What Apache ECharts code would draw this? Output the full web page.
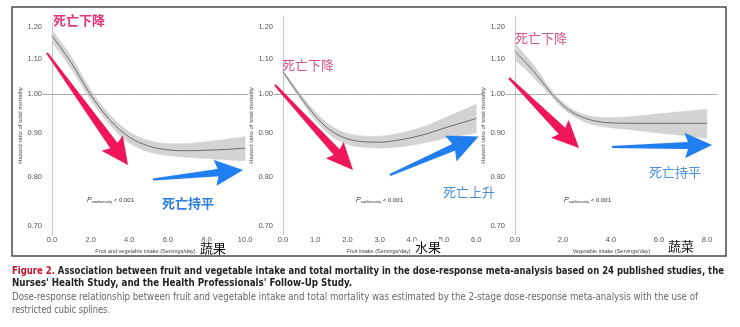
<!DOCTYPE html>
<html><head><meta charset="utf-8">
<script src="https://cdn.jsdelivr.net/npm/echarts@6/dist/echarts.min.js"></script>
<style>html,body{margin:0;padding:0;background:#fff}#c{width:740px;height:327px}</style>
</head><body><div id="c"></div>
<script>
// ---------- data ----------
const yTickLabels = [0.70, 0.80, 0.90, 1.00, 1.10, 1.20];

const p1X  = [0, 1, 2, 3, 4, 5, 6, 7, 8, 9, 10];
const p1HR = [1.170, 1.088, 0.998, 0.932, 0.890, 0.869, 0.860, 0.858, 0.859, 0.861, 0.864];
const p1Lo = [1.150, 1.070, 0.985, 0.920, 0.876, 0.855, 0.847, 0.843, 0.840, 0.837, 0.835];
const p1Hi = [1.190, 1.105, 1.012, 0.945, 0.903, 0.882, 0.875, 0.875, 0.879, 0.885, 0.891];
const p1XTicks = [0, 2, 4, 6, 8, 10];

const p2X  = [0, 0.5, 1, 1.5, 2, 2.5, 3, 3.5, 4, 4.5, 5, 5.5, 6];
const p2HR = [1.062, 0.998, 0.943, 0.905, 0.886, 0.879, 0.878, 0.882, 0.889, 0.899, 0.912, 0.924, 0.936];
const p2Lo = [1.058, 0.990, 0.932, 0.893, 0.873, 0.866, 0.864, 0.866, 0.871, 0.878, 0.887, 0.894, 0.900];
const p2Hi = [1.066, 1.005, 0.953, 0.917, 0.899, 0.893, 0.892, 0.898, 0.907, 0.920, 0.937, 0.955, 0.973];
const p2XTicks = [0, 1, 2, 3, 4, 5, 6];

const p3X  = [0, 0.5, 1, 1.5, 2, 2.5, 3, 3.5, 4, 5, 6, 7, 8];
const p3HR = [1.122, 1.085, 1.045, 1.003, 0.970, 0.948, 0.935, 0.928, 0.925, 0.924, 0.924, 0.924, 0.924];
const p3Lo = [1.097, 1.065, 1.030, 0.995, 0.962, 0.940, 0.925, 0.917, 0.913, 0.907, 0.900, 0.894, 0.887];
const p3Hi = [1.145, 1.105, 1.060, 1.012, 0.978, 0.956, 0.944, 0.939, 0.938, 0.942, 0.948, 0.954, 0.960];
const p3XTicks = [0, 2, 4, 6, 8];

const xNames = ['Fruit and vegetable intake (Servings/day)', 'Fruit intake (Servings/day)', 'Vegetable intake (Servings/day)'];
const yName = 'Hazard ratio of total mortality';
const refHR = 1.00;

const captionLine1Red = 'Figure 2.';
const captionLine1 = ' Association between fruit and vegetable intake and total mortality in the dose-response meta-analysis based on 24 published studies, the';
const captionLine2 = "Nurses' Health Study, and the Health Professionals' Follow-Up Study.";
const captionLine3 = 'Dose-response relationship between fruit and vegetable intake and total mortality was estimated by the 2-stage dose-response meta-analysis with the use of';
const captionLine4 = 'restricted cubic splines.';

// ---------- layout ----------
const panelData = [
  {x: p1X, hr: p1HR, lo: p1Lo, hi: p1Hi, ticks: p1XTicks},
  {x: p2X, hr: p2HR, lo: p2Lo, hi: p2Hi, ticks: p2XTicks},
  {x: p3X, hr: p3HR, lo: p3Lo, hi: p3Hi, ticks: p3XTicks}
];
const panelLayout = [
  {grid: {left: 43, top: 16, width: 205, height: 219}, xmin: -0.47, xmax: 10.15, nameGap: 18},
  {grid: {left: 274, top: 16, width: 209, height: 219}, xmin: -0.28, xmax: 6.21, nameGap: 17},
  {grid: {left: 506, top: 16, width: 211, height: 219}, xmin: -0.375, xmax: 8.42, nameGap: 16}
];
// The hazard-ratio axis is logarithmic: values are plotted as ln(HR)
const toY = v => Math.log(v);
const fromY = v => Math.exp(v);
const Y_MIN = -0.381, Y_MAX = 0.211;
const AXFONT = '"Liberation Sans", Arial, sans-serif';
const CJK = '"Noto Sans CJK SC", sans-serif';
const SMOOTH = 0.35;

// same bezier smoothing rule as the line series, used to outline the band
function smoothPath(pts, s, cmd) {
  const cps = [];
  for (let i = 0; i < pts.length; i++) {
    const p = pts[i], prev = pts[i - 1] || p, next = pts[i + 1] || p;
    const vx = (next[0] - prev[0]) * s, vy = (next[1] - prev[1]) * s;
    let d0 = Math.hypot(p[0] - prev[0], p[1] - prev[1]), d1 = Math.hypot(p[0] - next[0], p[1] - next[1]);
    const sum = d0 + d1; if (sum) { d0 /= sum; d1 /= sum; }
    cps.push([p[0] - vx * d0, p[1] - vy * d0], [p[0] + vx * d1, p[1] + vy * d1]);
  }
  const c = cps.slice(1);
  let d = cmd + pts[0][0] + ' ' + pts[0][1];
  for (let i = 0; i < pts.length - 1; i++) {
    const a = c[2 * i], b = c[2 * i + 1];
    d += ' C' + a[0] + ' ' + a[1] + ' ' + b[0] + ' ' + b[1] + ' ' + pts[i + 1][0] + ' ' + pts[i + 1][1];
  }
  return d;
}

const grids = [], xAxes = [], yAxes = [], series = [];
panelData.forEach((p, i) => {
  const L = panelLayout[i];
  grids.push(Object.assign({containLabel: false}, L.grid));
  xAxes.push({
    type: 'value', gridIndex: i, min: L.xmin, max: L.xmax,
    name: xNames[i], nameLocation: 'middle', nameGap: 7,
    nameTextStyle: {fontSize: 5.5, color: '#444', fontFamily: AXFONT},
    axisLine: {show: true, lineStyle: {color: '#b8b8b8', width: 1}},
    axisTick: {show: false}, splitLine: {show: false},
    axisLabel: {customValues: p.ticks, formatter: v => v.toFixed(1), fontSize: 7.5, color: '#555', margin: 1, fontFamily: AXFONT}
  });
  yAxes.push({
    type: 'value', gridIndex: i, min: Y_MIN, max: Y_MAX,
    name: yName, nameLocation: 'middle', nameGap: L.nameGap,
    nameTextStyle: {fontSize: 6, color: '#444', fontFamily: AXFONT},
    axisLine: {show: true, lineStyle: {color: '#c4c4c4', width: 1}},
    axisTick: {show: false}, splitLine: {show: false},
    axisLabel: {customValues: yTickLabels.map(toY), formatter: v => fromY(v).toFixed(2), fontSize: 7.5, color: '#555', margin: 1, fontFamily: AXFONT}
  });
  // confidence band, outlined from the upper and lower bounds through the axis scales
  series.push({
    type: 'custom', xAxisIndex: i, yAxisIndex: i, silent: true, z: 1,
    data: p.x.map((x, k) => [x, toY(p.lo[k]), toY(p.hi[k])]),
    encode: {x: 0, y: [1, 2]},
    renderItem: (params, api) => {
      if (params.dataIndex !== 0) return;
      const up = p.x.map((x, k) => api.coord([x, toY(p.hi[k])]));
      const dn = p.x.map((x, k) => api.coord([x, toY(p.lo[k])])).reverse();
      return {type: 'path', shape: {pathData: smoothPath(up, SMOOTH, 'M') + ' ' + smoothPath(dn, SMOOTH, 'L') + ' Z'},
        style: {fill: '#d3d3d3', stroke: '#d3d3d3', lineWidth: 0.5}};
    }
  });
  series.push({
    type: 'line', xAxisIndex: i, yAxisIndex: i, z: 3,
    data: p.x.map((x, k) => [x, toY(p.hr[k])]), symbol: 'none', smooth: SMOOTH,
    lineStyle: {color: '#6e6e6e', width: 1}, silent: true,
    markLine: {silent: true, symbol: 'none', label: {show: false},
      lineStyle: {color: '#9a9a9a', type: [1.2, 1.8], width: 1},
      data: [{yAxis: toY(refHR)}]}
  });
});

// ---------- annotations (decorative overlay) ----------
function arrow(t, p, tw, sw, hw, hl, back, color) {
  const dx = p[0] - t[0], dy = p[1] - t[1];
  const len = Math.hypot(dx, dy), ux = dx / len, uy = dy / len, vx = -uy, vy = ux;
  const loc = [[0, -tw / 2], [len - hl, -sw / 2], [len - hl - back, -hw], [len, 0], [len - hl - back, hw], [len - hl, sw / 2], [0, tw / 2]];
  return {type: 'polygon', z: 50, silent: true,
    shape: {points: loc.map(([u, v]) => [t[0] + u * ux + v * vx, t[1] + u * uy + v * vy])},
    style: {fill: color, shadowBlur: 2, shadowColor: 'rgba(0,0,0,0.15)'}};
}
const RED = '#f1165b', BLUE = '#1f7ff0';
const arrows = [
  arrow([47, 53], [128, 165], 2, 9, 13, 24, 3, RED),
  arrow([153, 179.5], [243, 170], 2, 7.5, 13, 25, 3, BLUE),
  arrow([275, 85], [353, 170], 2, 8, 12, 24, 3, RED),
  arrow([390, 175], [478.5, 136.5], 2, 7, 14, 27, 3, BLUE),
  arrow([509, 78], [579, 148], 2, 9, 12.5, 24, 3, RED),
  arrow([612, 147], [712, 145], 2, 7, 12.5, 24, 3, BLUE)
];

function ctext(txt, x, y, color, weight, glow) {
  return {type: 'text', x: x, y: y, z: 60, silent: true,
    style: {text: txt, fill: color, fontSize: 13, fontWeight: weight, fontFamily: CJK,
      align: 'left', verticalAlign: 'middle',
      stroke: glow ? '#fff' : null, lineWidth: glow ? 3 : 0}};
}
const PINK_B = '#e3347a', PINK = '#d4558a', BLUE_B = '#2b7de0', BLUE_T = '#4a8fd8';
const texts = [
  ctext('死亡下降', 53, 20, PINK_B, 'bold', true),
  ctext('死亡持平', 162, 203, BLUE_B, 'bold', true),
  ctext('死亡下降', 282, 65, PINK, 'normal', false),
  ctext('死亡上升', 443, 192, BLUE_T, 'normal', false),
  ctext('死亡下降', 515, 38, PINK, 'normal', false),
  ctext('死亡持平', 649, 172, BLUE_T, 'normal', false)
];
function label(txt, x, y) {
  return {type: 'text', x: x, y: y, z: 70, silent: true,
    style: {text: txt, fill: '#111', fontSize: 13, fontFamily: CJK, align: 'left', verticalAlign: 'middle',
      backgroundColor: '#fff', padding: [0, 1]}};
}
const labels = [label('蔬果', 199, 248), label('水果', 414, 247), label('蔬菜', 667, 246)];

function pText(x, y) {
  return {type: 'text', x: x, y: y, z: 60, silent: true,
    style: {text: '{p|P}{s|nonlinearity}{n| < 0.001}', fontFamily: AXFONT, verticalAlign: 'middle', align: 'left',
      rich: {p: {fontSize: 7, fontStyle: 'italic', fill: '#333', verticalAlign: 'bottom'},
             s: {fontSize: 4, fill: '#333', verticalAlign: 'bottom'},
             n: {fontSize: 6, fill: '#333', verticalAlign: 'bottom'}}}};
}
const pTexts = [pText(87, 200), pText(356, 200), pText(564, 200)];

// caption (scaled to the measured width)
const CAPFONT = '"Liberation Sans Narrow", "DejaVu Sans Condensed", Arial, sans-serif';
const mctx = document.createElement('canvas').getContext('2d');
function measure(txt, weight, size) { mctx.font = weight + ' ' + size + 'px ' + CAPFONT; return mctx.measureText(txt).width; }
function capLine(txt, y, weight, color, targetW, richRed) {
  const size = 10;
  const w = measure(richRed ? richRed + txt : txt, weight, size);
  const st = {fontSize: size, fontWeight: weight, fontFamily: CAPFONT, fill: color, align: 'left', verticalAlign: 'middle'};
  if (richRed) {
    st.text = '{r|' + richRed + '}{b|' + txt + '}';
    st.rich = {r: {fill: '#c8102e', fontSize: size, fontWeight: weight, fontFamily: CAPFONT},
               b: {fill: color, fontSize: size, fontWeight: weight, fontFamily: CAPFONT}};
  } else st.text = txt;
  return {type: 'text', x: 12, y: y, scaleX: targetW / w, silent: true, style: st};
}
const caption = [
  capLine(captionLine1, 271, 'bold', '#222', 712, captionLine1Red),
  capLine(captionLine2, 283.5, 'bold', '#222', 340),
  capLine(captionLine3, 297, 'normal', '#666', 686),
  capLine(captionLine4, 310, 'normal', '#666', 98)
];

const border = {type: 'rect', z: 1, silent: true, shape: {x: 12, y: 7, width: 714, height: 249},
  style: {fill: null, stroke: '#4a4a4a', lineWidth: 1.5}};

const chart = echarts.init(document.getElementById('c'), null, {renderer: 'canvas'});
chart.setOption({
  backgroundColor: '#fff',
  animation: false,
  grid: grids, xAxis: xAxes, yAxis: yAxes, series: series,
  graphic: [border].concat(arrows, texts, labels, pTexts, caption)
});
</script></body></html>
